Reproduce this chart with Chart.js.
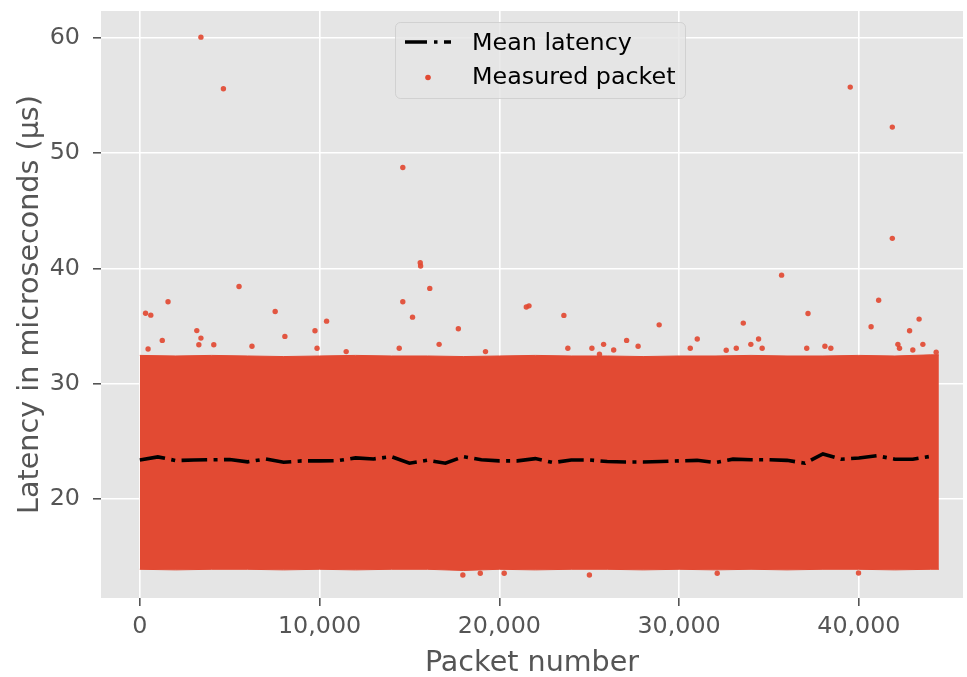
<!DOCTYPE html>
<html>
<head>
<meta charset="utf-8">
<script src="https://cdn.jsdelivr.net/npm/chart.js@4.4.1/dist/chart.umd.min.js"></script>
<style>
  html, body { margin: 0; padding: 0; background: #fff; }
  #wrap { width: 967px; height: 677px; }
</style>
</head>
<body>
<div id="wrap"><canvas id="latency" width="967" height="677"></canvas></div>
<script>
// mean latency, one value every 1000 packets
const meanPackets = [0, 1000, 2000, 3000, 4000, 5000, 6000, 7000, 8000, 9000,
  10000, 11000, 12000, 13000, 14000, 15000, 16000, 17000, 18000, 19000,
  20000, 21000, 22000, 23000, 24000, 25000, 26000, 27000, 28000, 29000,
  30000, 31000, 32000, 33000, 34000, 35000, 36000, 37000, 38000, 39000,
  40000, 41000, 42000, 43000, 44000];
const meanLatency = [23.38, 23.65, 23.33, 23.38, 23.40, 23.42, 23.22, 23.47, 23.18, 23.30,
  23.30, 23.32, 23.56, 23.47, 23.67, 23.10, 23.36, 23.10, 23.67, 23.40,
  23.30, 23.30, 23.50, 23.15, 23.38, 23.38, 23.25, 23.20, 23.20, 23.25,
  23.30, 23.35, 23.15, 23.45, 23.40, 23.40, 23.35, 23.10, 23.90, 23.45,
  23.55, 23.75, 23.45, 23.45, 23.70];

// outline of the dense cloud of measured packets
const bandPackets = [0, 2000, 4000, 6000, 8000, 10000, 12000, 14000, 16000, 18000, 20000, 22000,
  24000, 26000, 28000, 30000, 32000, 34000, 36000, 38000, 40000, 42000, 44000, 44450];
const bandTop = [32.45, 32.40, 32.45, 32.40, 32.35, 32.40, 32.45, 32.40, 32.40, 32.35, 32.40, 32.45,
  32.40, 32.40, 32.35, 32.40, 32.40, 32.45, 32.40, 32.40, 32.45, 32.40, 32.50, 32.50];
const bandBottom = [13.90, 13.85, 13.90, 13.90, 13.85, 13.90, 13.85, 13.90, 13.90, 13.80, 13.90, 13.85,
  13.90, 13.90, 13.85, 13.90, 13.85, 13.90, 13.85, 13.90, 13.90, 13.85, 13.90, 13.90];

// single packets outside the cloud
const outlierPackets = [3400, 4650, 14630, 15600, 15620, 16130, 5520, 1570, 320, 610,
  14630, 7530, 15170, 10390, 17720, 3170, 3400, 8070, 9745, 21500, 21650, 1250,
  39520, 41860, 41860, 35700, 41100, 37170, 23590, 43350, 28890, 33570, 40680, 42820,
  27080, 31010, 34420,
  3285, 4115, 6240, 9860, 16650, 14430, 460, 11480, 19230, 27720, 25150, 25800, 26360,
  33990, 34620, 30620, 32620, 33180, 37100, 38110, 38440, 42170, 43560, 42260, 43000,
  23810, 25570, 44300,
  17970, 18940, 20270, 25010, 32120, 39980];
const outlierLatency = [60.05, 55.58, 48.75, 40.49, 40.20, 38.26, 38.43, 37.10, 36.11, 35.94,
  37.10, 36.26, 35.77, 35.42, 34.76, 34.60, 33.95, 34.10, 34.59, 36.65, 36.75, 33.75,
  55.72, 52.25, 42.60, 39.41, 37.24, 36.09, 35.92, 35.60, 35.10, 35.25, 34.93, 34.59,
  33.75, 33.87, 33.87,
  33.38, 33.38, 33.24, 33.07, 33.41, 33.07, 33.00, 32.78, 32.78, 33.24, 33.07, 33.41, 32.92,
  33.41, 33.07, 33.07, 32.90, 33.07, 33.07, 33.24, 33.07, 33.41, 33.41, 33.07, 32.92,
  33.07, 32.55, 32.72,
  13.41, 13.56, 13.56, 13.41, 13.56, 13.58];

const xTicks = [0, 10000, 20000, 30000, 40000];
const yTicks = [20, 30, 40, 50, 60];

const RED = '#e24a33';
const FONT = 'DejaVu Sans';
const pts = (xs, ys) => xs.map((x, i) => ({ x, y: ys[i] }));

// grey panel behind the grid (ggplot look)
const plotBackground = {
  id: 'plotBackground',
  beforeDraw(chart) {
    const { ctx, chartArea: a } = chart;
    ctx.save();
    ctx.fillStyle = '#e5e5e5';
    ctx.fillRect(a.left, a.top, a.right - a.left, a.bottom - a.top);
    ctx.restore();
  }
};

// matplotlib-like legend box inside the plot
const boxLegend = {
  id: 'boxLegend',
  afterDraw(chart) {
    const ctx = chart.ctx;
    const ds = chart.data.datasets;
    const x = 395, y = 22, w = 290, h = 76, r = 5;
    ctx.save();
    ctx.beginPath();
    ctx.roundRect(x + 0.5, y + 0.5, w, h, r);
    ctx.fillStyle = 'rgba(229,229,229,0.8)';
    ctx.fill();
    ctx.strokeStyle = 'rgba(204,204,204,0.8)';
    ctx.lineWidth = 1;
    ctx.stroke();

    // dash-dot sample
    ctx.beginPath();
    ctx.setLineDash([22, 7, 3.5, 6.5]);
    ctx.lineWidth = 3.5;
    ctx.strokeStyle = '#000';
    ctx.moveTo(405, 42);
    ctx.lineTo(451, 42);
    ctx.stroke();
    ctx.setLineDash([]);

    // dot sample
    ctx.beginPath();
    ctx.arc(428, 77.5, 2.8, 0, Math.PI * 2);
    ctx.fillStyle = RED;
    ctx.fill();

    ctx.fillStyle = '#000';
    ctx.font = '23.8px "' + FONT + '"';
    ctx.textBaseline = 'alphabetic';
    ctx.textAlign = 'left';
    ctx.fillText(ds[0].label, 472, 50);
    ctx.fillText(ds[1].label, 472, 84);
    ctx.restore();
  }
};

// fixed axis sizes, no extra room for overhanging tick labels
function fitX(s) {
  s.height = 79;
  s.paddingLeft = 0;
  s.paddingRight = 0;
}
function fitY(s) {
  s.width = 101;
  s.paddingTop = 0;
  s.paddingBottom = 0;
}

new Chart(document.getElementById('latency'), {
  type: 'scatter',
  data: {
    datasets: [
      {
        type: 'line',
        label: 'Mean latency',
        data: pts(meanPackets, meanLatency),
        borderColor: '#000',
        borderWidth: 3.6,
        borderDash: [25.6, 6.4, 4, 6.4],
        pointRadius: 0,
        fill: false,
        tension: 0,
        order: 0
      },
      {
        label: 'Measured packet',
        data: pts(outlierPackets, outlierLatency),
        backgroundColor: 'rgba(226,74,51,0.92)',
        borderWidth: 0,
        pointRadius: 2.7,
        order: 1
      },
      {
        type: 'line',
        label: 'band top',
        data: pts(bandPackets, bandTop),
        borderColor: RED,
        borderWidth: 1,
        backgroundColor: RED,
        pointRadius: 0,
        fill: 3,
        tension: 0,
        order: 2
      },
      {
        type: 'line',
        label: 'band bottom',
        data: pts(bandPackets, bandBottom),
        borderColor: RED,
        borderWidth: 1,
        pointRadius: 0,
        fill: false,
        tension: 0,
        order: 3
      }
    ]
  },
  options: {
    responsive: false,
    animation: false,
    layout: { padding: { top: 11, right: 0, bottom: 0, left: 0 } },
    plugins: {
      legend: { display: false },
      tooltip: { enabled: false }
    },
    scales: {
      x: {
        type: 'linear',
        position: 'bottom',
        min: -2159,
        max: 45792,
        afterFit: fitX,
        afterBuildTicks: s => { s.ticks = xTicks.map(v => ({ value: v })); },
        border: { display: false },
        grid: { color: '#fff', lineWidth: 1.6, tickColor: '#555', tickLength: 8 },
        ticks: {
          color: '#555',
          font: { family: FONT, size: 23.8 },
          padding: 7,
          maxRotation: 0,
          callback: v => Number(v).toLocaleString('en-US')
        },
        title: {
          display: true,
          text: 'Packet number',
          color: '#555',
          font: { family: FONT, size: 28.6 },
          padding: { top: 0, bottom: -4 }
        }
      },
      y: {
        min: 11.41,
        max: 62.32,
        afterFit: fitY,
        afterBuildTicks: s => { s.ticks = yTicks.map(v => ({ value: v })); },
        border: { display: false },
        grid: { color: '#fff', lineWidth: 1.6, tickColor: '#555', tickLength: 8 },
        ticks: {
          color: '#555',
          font: { family: FONT, size: 23.8 },
          padding: 13
        },
        title: {
          display: true,
          text: 'Latency in microseconds (µs)',
          color: '#555',
          font: { family: FONT, size: 28.6 },
          padding: { top: 13, bottom: 0 }
        }
      }
    }
  },
  plugins: [plotBackground, boxLegend]
});
</script>
</body>
</html>
